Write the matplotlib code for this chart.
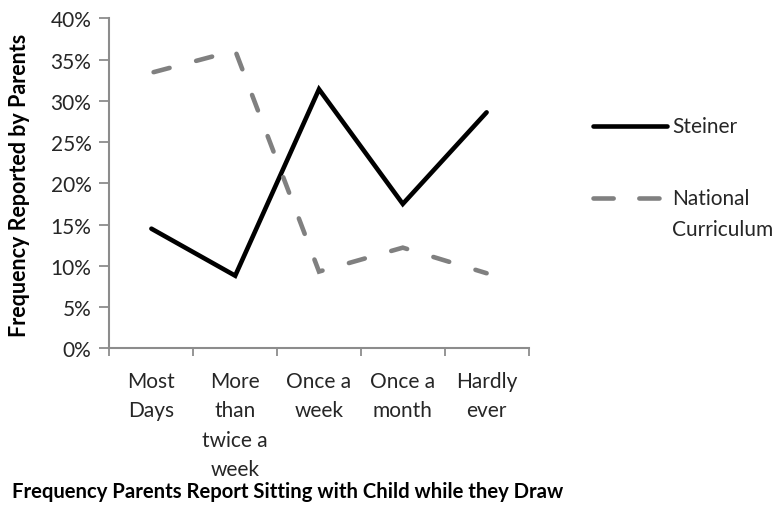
import matplotlib
matplotlib.use("Agg")
import matplotlib.pyplot as plt
from matplotlib.lines import Line2D
from matplotlib.ticker import FuncFormatter, MultipleLocator

plt.rcParams['font.family'] = ['Lato', 'DejaVu Sans']

categories = ["Most\nDays", "More\nthan\ntwice a\nweek", "Once a\nweek", "Once a\nmonth", "Hardly\never"]
steiner = [14.5, 8.8, 31.4, 17.5, 28.6]
national = [33.4, 36.1, 9.3, 12.2, 9.1]
series_names = ["Steiner", "National", "Curriculum"]

axis_grey = "#8c8c8c"
text_color = "#262626"
line_grey = "#808080"
W, H = 783, 510

fig = plt.figure(figsize=(7.83, 5.10), dpi=100)
ax = fig.add_axes([109.5 / W, 1 - 349.3 / H, 419 / W, 330 / H])

x = list(range(len(categories)))
ax.plot(x, steiner, color="black", lw=3.3, solid_capstyle="round", solid_joinstyle="miter")
ax.plot(x, national, color=line_grey, lw=3.3, linestyle=(9.1, (3.6, 6.0)),
        dash_capstyle="round", dash_joinstyle="miter")

ax.set_xlim(-0.5, len(categories) - 0.5)
ax.set_ylim(0, 40)
ax.yaxis.set_major_locator(MultipleLocator(5))
ax.yaxis.set_major_formatter(FuncFormatter(lambda v, p: f"{v:.0f}%"))

# category boundaries carry the tick marks, labels sit at category centres
ax.set_xticks([i - 0.5 for i in range(len(categories) + 1)])
ax.set_xticklabels([])
ax.set_xticks(x, minor=True)
ax.set_xticklabels(categories, minor=True, fontsize=15, color=text_color, linespacing=1.6)
ax.tick_params(axis="x", which="minor", length=0, pad=16)
ax.tick_params(axis="x", which="major", length=6, width=1.3, color=axis_grey, direction="out")
ax.tick_params(axis="y", length=7, width=1.3, color=axis_grey, direction="out",
               labelsize=15, labelcolor=text_color, pad=6)
for lbl in ax.get_xticklabels(minor=True):
    lbl.set_verticalalignment("top")

for side in ("top", "right"):
    ax.spines[side].set_visible(False)
for side in ("left", "bottom"):
    ax.spines[side].set_color(axis_grey)
    ax.spines[side].set_linewidth(1.5)

fig.text(20 / W, 1 - 185 / H, "Frequency Reported by Parents", rotation=90,
         ha="center", va="center", fontsize=15.5, fontweight="bold", color="black")
fig.text(12 / W, 1 - 492 / H, "Frequency Parents Report Sitting with Child while they Draw",
         ha="left", va="center", fontsize=14.6, fontweight="bold", color="black")

# legend entries
fig.add_artist(Line2D([593 / W, 667 / W], [1 - 127 / H, 1 - 127 / H], color="black", lw=3.3,
                      solid_capstyle="round", transform=fig.transFigure))
fig.add_artist(Line2D([593 / W, 667 / W], [1 - 199 / H, 1 - 199 / H], color=line_grey, lw=3.3,
                      dashes=(4.4, 5.6), dash_capstyle="round", transform=fig.transFigure))
fig.text(672 / W, 1 - 127 / H, series_names[0], ha="left", va="center", fontsize=15, color=text_color)
fig.text(672 / W, 1 - 199 / H, series_names[1], ha="left", va="center", fontsize=15, color=text_color)
fig.text(672 / W, 1 - 230 / H, series_names[2], ha="left", va="center", fontsize=15, color=text_color)

fig.savefig("out.png", dpi=100)
